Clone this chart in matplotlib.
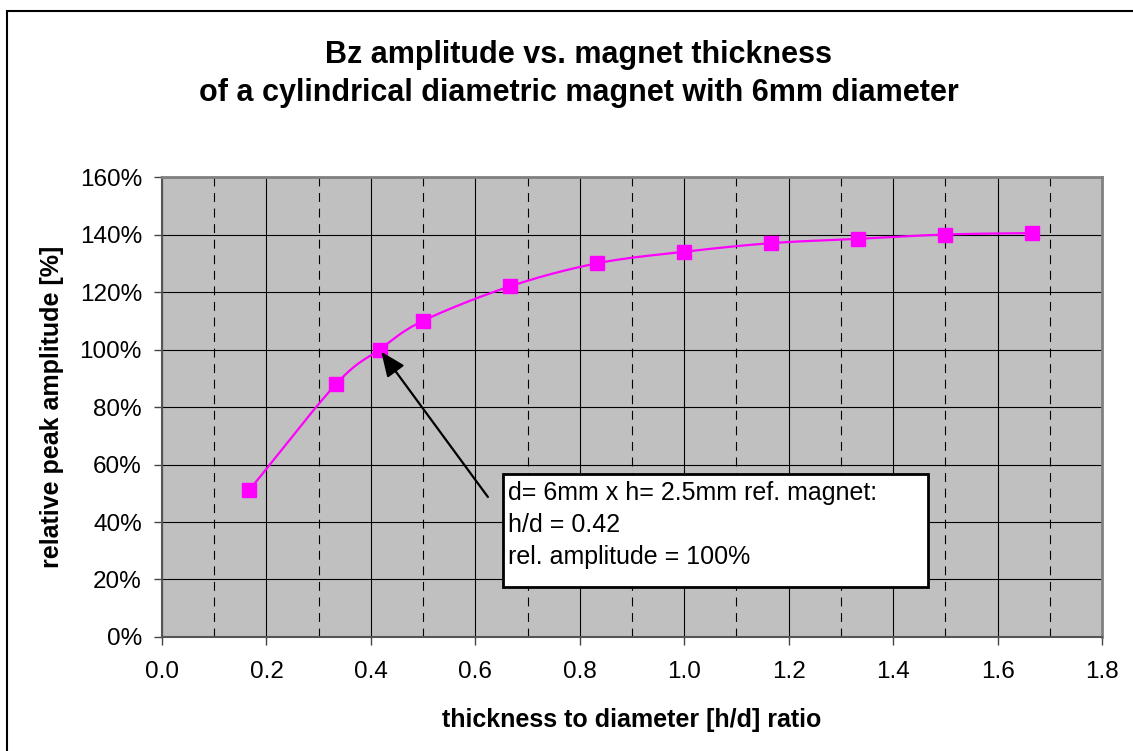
import numpy as np
import matplotlib
matplotlib.use("Agg")
import matplotlib.pyplot as plt
from matplotlib.patches import Rectangle

plt.rcParams['font.family'] = ['Liberation Sans', 'DejaVu Sans']

# magnet thickness h for d = 6 mm, and the measured relative amplitude
diameter = 6.0
thickness = [1.0, 2.0, 2.5, 3.0, 4.0, 5.0, 6.0, 7.0, 8.0, 9.0, 10.0]
amplitude = [51, 88, 100, 110, 122, 130, 134, 137, 138.5, 140, 140.5]
xticks = [0.0, 0.2, 0.4, 0.6, 0.8, 1.0, 1.2, 1.4, 1.6, 1.8]
yticks = [0, 20, 40, 60, 80, 100, 120, 140, 160]
note = 'd= 6mm x h= 2.5mm ref. magnet:\nh/d = 0.42\nrel. amplitude = 100%'

ratio = np.array(thickness) / diameter
amp = np.array(amplitude)


def smooth(x, y, n=20):
    # catmull-rom curve through the points, like excel's smoothed line
    px = np.concatenate([[2*x[0] - x[1]], x, [2*x[-1] - x[-2]]])
    py = np.concatenate([[2*y[0] - y[1]], y, [2*y[-1] - y[-2]]])
    xs, ys = [], []
    t = np.linspace(0, 1, n)
    for i in range(1, len(px) - 2):
        for p, out in ((px, xs), (py, ys)):
            p0, p1, p2, p3 = p[i-1], p[i], p[i+1], p[i+2]
            out.extend(0.5*((2*p1) + (-p0 + p2)*t + (2*p0 - 5*p1 + 4*p2 - p3)*t**2
                            + (-p0 + 3*p1 - 3*p2 + p3)*t**3))
    return np.array(xs), np.array(ys)


fig = plt.figure(figsize=(11.33, 7.51), dpi=100)
ax = fig.add_axes([0.143, 0.1518, 0.8297, 0.6125])
ax.set_facecolor('#c0c0c0')

sx, sy = smooth(ratio, amp)
ax.plot(sx, sy, color='#ff00ff', lw=1.6, zorder=3)
ax.plot(ratio, amp, ls='none', marker='s', ms=10, color='#ff00ff', zorder=4)

ax.set_xlim(0, 1.8)
ax.set_ylim(0, 160)
ax.set_xticks(xticks)
ax.set_xticks(np.array(xticks[:-1]) + 0.1, minor=True)
ax.set_yticks(yticks)
ax.set_xticklabels([f'{v:.1f}' for v in xticks])
ax.set_yticklabels([f'{v}%' for v in yticks])
ax.grid(which='major', color='black', lw=0.8)
ax.grid(which='minor', axis='x', color='black', lw=0.8, ls=(0, (8, 6)))
ax.tick_params(which='major', direction='out', length=6, width=1, labelsize=17.5,
               color='#444444')
ax.tick_params(axis='y', pad=8.5)
ax.tick_params(axis='x', pad=11)
ax.tick_params(which='minor', length=0)
ax.set_axisbelow(True)
for s in ('top', 'right'):
    ax.spines[s].set_color('#808080')
    ax.spines[s].set_linewidth(2)
for s in ('left', 'bottom'):
    ax.spines[s].set_color('#555555')
    ax.spines[s].set_linewidth(1.5)

ax.set_xlabel('thickness to diameter [h/d] ratio', fontsize=18, fontweight='bold', va='center')
ax.set_ylabel('relative peak amplitude [%]', fontsize=18, fontweight='bold', va='center')
ax.xaxis.set_label_coords(0.5, -0.180)
ax.yaxis.set_label_coords(-0.117, 0.5)

fig.text(0.5105, 0.916, 'Bz amplitude vs. magnet thickness', ha='center', va='baseline',
         fontsize=22, fontweight='bold')
fig.text(0.5105, 0.8655, 'of a cylindrical diametric magnet with 6mm diameter', ha='center',
         va='baseline', fontsize=22, fontweight='bold')

# reference magnet note with arrow to the 2.5mm point
ax.add_patch(Rectangle((0.653, 17.4), 0.814, 39.3, fc='white', ec='black', lw=2, zorder=5))
ax.text(0.663, 54.2, note, fontsize=18, va='top', ha='left', linespacing=1.42, zorder=6)
ax.annotate('', xy=(ratio[2], amp[2]), xytext=(0.624, 48.7),
            arrowprops=dict(arrowstyle='-|>,head_length=0.75,head_width=0.32', color='black',
                            lw=1.6, shrinkA=0, shrinkB=2, mutation_scale=20),
            zorder=6)

fig.add_artist(Rectangle((0.006, -0.1), 1.2, 1.085, transform=fig.transFigure,
                         fill=False, ec='black', lw=1.5))

fig.savefig('out.png', dpi=100)
